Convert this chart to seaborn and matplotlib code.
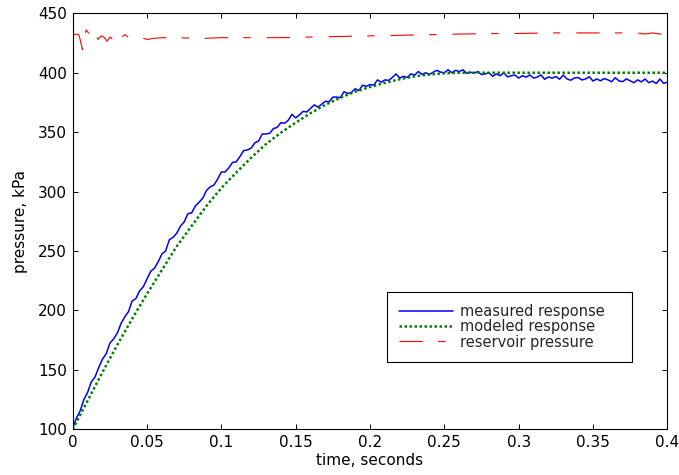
import numpy as np
import pandas as pd
import matplotlib
matplotlib.use("Agg")
import matplotlib.pyplot as plt
import seaborn as sns

# ---------------- data ----------------
# measured response, sampled every 0.0025 s from 0 to 0.4 s
p_measured = [
    101, 109.5, 115.5, 125, 131, 140, 144, 152, 159, 163.5,
    172.5, 176, 181, 189, 194.5, 199, 208, 210, 216.5, 220,
    226.5, 233, 235.5, 241, 247.5, 250, 259.5, 261.5, 265, 271,
    274.5, 281.5, 282, 288, 291, 294.5, 301, 304, 305.5, 310.5,
    316.5, 316.5, 320, 324.5, 325, 329.5, 334.5, 335, 336.5, 341,
    342.5, 348.5, 348.5, 349, 353, 354, 358, 357.5, 360, 365,
    362, 364.5, 367.5, 367, 370, 373, 371, 373.5, 376, 375.5,
    379.5, 379.5, 379, 384, 382.5, 383.5, 386.5, 385, 389.5, 388.5,
    390, 389.5, 394, 392, 394, 393.5, 396, 399, 395.5, 397,
    396, 399, 398, 401, 398.5, 400, 398.5, 400.5, 402, 400.5,
    400, 402.5, 400, 402, 401, 402.5, 399.5, 400.5, 399.5, 401,
    398.5, 399, 400, 397, 399, 397.5, 400, 396.5, 397.5, 398,
    395.5, 397.5, 396.3, 398.1, 395.5, 396.3, 398.2, 394.5, 396.5, 395.4,
    396.8, 394.6, 398, 394.8, 393.7, 395.6, 396, 393.9, 394.8, 396.6,
    393, 394.8, 393.2, 395.1, 394, 392.4, 395.8, 393.1, 392.5, 394.8,
    393.2, 391.6, 394, 392.3, 394.7, 391.6, 393, 390.9, 394.7, 391.1,
    392,
]
t_measured = np.linspace(0.0, 0.4, len(p_measured))

# modeled response
t_model = [0.00, 0.01, 0.02, 0.03, 0.04, 0.05, 0.06, 0.07, 0.08, 0.09,
           0.10, 0.11, 0.12, 0.13, 0.14, 0.15, 0.16, 0.17, 0.18, 0.19,
           0.20, 0.21, 0.22, 0.23, 0.24, 0.25, 0.26, 0.30, 0.35, 0.40]
p_model = [100, 124, 148, 171, 193, 214, 234, 254, 271, 288,
           303, 316, 328.5, 340, 349.5, 358, 366, 373, 379, 384,
           388, 391.5, 394.5, 397, 398.5, 399.5, 400, 400, 400, 400]

# reservoir pressure
t_res = [0.000, 0.002, 0.004, 0.005, 0.0065, 0.008, 0.009, 0.011, 0.013, 0.015,
         0.017, 0.019, 0.021, 0.023, 0.025, 0.027, 0.029, 0.031, 0.033, 0.035,
         0.038, 0.041, 0.045, 0.050, 0.055, 0.060, 0.070, 0.080, 0.085, 0.090,
         0.100, 0.120, 0.140, 0.160, 0.180, 0.200, 0.220, 0.240, 0.260, 0.280,
         0.300, 0.320, 0.340, 0.360, 0.380, 0.385, 0.390, 0.395, 0.400]
p_res = [431.5, 432.5, 432, 428, 419.5, 430, 436, 433, 430, 434,
         428, 431, 430, 426.5, 430, 428, 431, 433.5, 430, 432,
         429.5, 431, 430, 428, 429, 429.5, 429.5, 429, 428, 429,
         429.5, 429.5, 429.5, 430, 430.5, 431, 431.5, 432, 432.5, 433,
         433, 433.5, 433.5, 433.5, 433.5, 432.5, 433.5, 432.5, 433]

series_labels = ["measured response", "modeled response", "reservoir pressure"]
x_ticks = [0, 0.05, 0.1, 0.15, 0.2, 0.25, 0.3, 0.35, 0.4]
x_tick_labels = ["0", "0.05", "0.1", "0.15", "0.2", "0.25", "0.3", "0.35", "0.4"]
y_ticks = [100, 150, 200, 250, 300, 350, 400, 450]
y_tick_labels = ["100", "150", "200", "250", "300", "350", "400", "450"]

# ---------------- style ----------------
sns.set_theme(style="ticks")
plt.rcParams["font.family"] = ["DejaVu Sans"]
plt.rcParams["lines.scale_dashes"] = False
plt.rcParams["xtick.direction"] = "in"
plt.rcParams["ytick.direction"] = "in"
plt.rcParams["xtick.top"] = True
plt.rcParams["ytick.right"] = True

fig = plt.figure(figsize=(6.79, 4.75), dpi=100)
fig.patch.set_facecolor("white")
ax = fig.add_axes([0.1071, 0.0962, 0.8757, 0.8758])
ax.set_facecolor("white")

df_meas = pd.DataFrame({"t": t_measured, "p": p_measured})
df_model = pd.DataFrame({"t": t_model, "p": p_model})
df_res = pd.DataFrame({"t": t_res, "p": p_res})

sns.lineplot(data=df_meas, x="t", y="p", color=(0, 0, 1), linewidth=1.1,
             estimator=None, sort=False, ax=ax, label=series_labels[0])
sns.lineplot(data=df_model, x="t", y="p", color=(0, 0.5, 0), linewidth=1.8,
             estimator=None, sort=False, ax=ax, label=series_labels[1])
sns.lineplot(data=df_res, x="t", y="p", color=(1, 0, 0), linewidth=0.8,
             estimator=None, sort=False, ax=ax, label=series_labels[2])

lines = ax.get_lines()
lines[1].set_linestyle((0, (1.8, 1.8)))
lines[1].set_dash_capstyle("butt")
lines[2].set_linestyle((0, (16.8, 11.0, 5.3, 11.5)))

ax.set_xlim(0, 0.4)
ax.set_ylim(100, 450)
ax.set_xticks(x_ticks)
ax.set_xticklabels(x_tick_labels)
ax.set_yticks(y_ticks)
ax.set_yticklabels(y_tick_labels)
ax.tick_params(axis="both", which="major", length=3.6, width=0.7, pad=4,
               labelsize=11, colors="black", top=True, right=True)

for s in ax.spines.values():
    s.set_visible(True)
    s.set_color("black")
    s.set_linewidth(0.8)

ax.set_xlabel("time, seconds", fontsize=11, labelpad=2, color="black")
ax.set_ylabel("pressure, kPa", fontsize=11, labelpad=7, color="black")

leg = ax.legend(lines, series_labels, loc="upper left",
                bbox_to_anchor=(0.5286, 0.330, 0.412, 0.0), mode="expand",
                fontsize=10.5, handlelength=3.7, handletextpad=0.48,
                borderpad=0.82, labelspacing=0.02, borderaxespad=0,
                frameon=True, fancybox=False, framealpha=1, edgecolor="black")
leg.get_frame().set_linewidth(0.8)

fig.savefig("out.png", dpi=100, facecolor="white")
